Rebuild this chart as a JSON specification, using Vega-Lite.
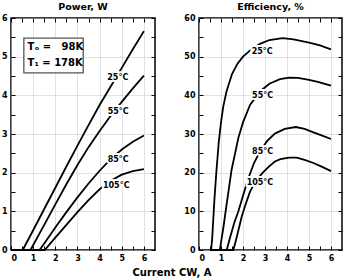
{
  "$schema": "https://vega.github.io/schema/vega-lite/v6.json",
  "padding": {"left": 0, "top": 0, "right": 4, "bottom": 0},
  "background": "white",
  "config": {
    "font": "DejaVu Sans",
    "view": {"stroke": "black", "strokeWidth": 1.5},
    "axis": {
      "labelFont": "DejaVu Sans", "labelFontWeight": "bold", "labelFontSize": 8, "labelColor": "black",
      "tickColor": "black", "tickWidth": 1, "domain": false, "title": null,
      "gridColor": "#c4c4c4", "gridDash": [1, 1], "gridWidth": 1
    },
    "title": {"font": "DejaVu Sans", "fontWeight": "bold", "fontSize": 10, "color": "black"}
  },
  "datasets": {
    "power": [
      {"t": "25", "x": 0, "y": 0}, {"t": "25", "x": 0.53, "y": 0}, {"t": "25", "x": 1, "y": 0.51}, {"t": "25", "x": 1.5, "y": 1.06}, {"t": "25", "x": 2, "y": 1.61}, {"t": "25", "x": 2.5, "y": 2.16}, {"t": "25", "x": 3, "y": 2.7}, {"t": "25", "x": 3.5, "y": 3.23}, {"t": "25", "x": 4, "y": 3.75}, {"t": "25", "x": 4.5, "y": 4.23}, {"t": "25", "x": 5, "y": 4.71}, {"t": "25", "x": 5.5, "y": 5.19}, {"t": "25", "x": 6, "y": 5.66},
      {"t": "55", "x": 0, "y": 0}, {"t": "55", "x": 0.88, "y": 0}, {"t": "55", "x": 1.5, "y": 0.65}, {"t": "55", "x": 2, "y": 1.18}, {"t": "55", "x": 2.5, "y": 1.7}, {"t": "55", "x": 3, "y": 2.2}, {"t": "55", "x": 3.5, "y": 2.66}, {"t": "55", "x": 4, "y": 3.08}, {"t": "55", "x": 4.5, "y": 3.47}, {"t": "55", "x": 5, "y": 3.83}, {"t": "55", "x": 5.5, "y": 4.18}, {"t": "55", "x": 6, "y": 4.51},
      {"t": "85", "x": 0, "y": 0}, {"t": "85", "x": 1.29, "y": 0}, {"t": "85", "x": 1.5, "y": 0.17}, {"t": "85", "x": 2, "y": 0.58}, {"t": "85", "x": 2.5, "y": 0.98}, {"t": "85", "x": 3, "y": 1.36}, {"t": "85", "x": 3.5, "y": 1.72}, {"t": "85", "x": 4, "y": 2.05}, {"t": "85", "x": 4.5, "y": 2.35}, {"t": "85", "x": 5, "y": 2.6}, {"t": "85", "x": 5.5, "y": 2.8}, {"t": "85", "x": 6, "y": 2.96},
      {"t": "105", "x": 0, "y": 0}, {"t": "105", "x": 1.52, "y": 0}, {"t": "105", "x": 2, "y": 0.32}, {"t": "105", "x": 2.5, "y": 0.65}, {"t": "105", "x": 3, "y": 0.98}, {"t": "105", "x": 3.5, "y": 1.29}, {"t": "105", "x": 4, "y": 1.57}, {"t": "105", "x": 4.5, "y": 1.79}, {"t": "105", "x": 5, "y": 1.95}, {"t": "105", "x": 5.5, "y": 2.04}, {"t": "105", "x": 6, "y": 2.09}
    ],
    "eff": [
      {"t": "25", "x": 0.5, "y": 0}, {"t": "25", "x": 0.55, "y": 0}, {"t": "25", "x": 0.6, "y": 3}, {"t": "25", "x": 0.7, "y": 13}, {"t": "25", "x": 0.8, "y": 21}, {"t": "25", "x": 0.9, "y": 28}, {"t": "25", "x": 1.0, "y": 33}, {"t": "25", "x": 1.1, "y": 37}, {"t": "25", "x": 1.25, "y": 41}, {"t": "25", "x": 1.5, "y": 45.5}, {"t": "25", "x": 1.75, "y": 48.2}, {"t": "25", "x": 2, "y": 50}, {"t": "25", "x": 2.3, "y": 51.5}, {"t": "25", "x": 2.77, "y": 53.3}, {"t": "25", "x": 3.2, "y": 54.3}, {"t": "25", "x": 3.8, "y": 54.8}, {"t": "25", "x": 4.3, "y": 54.5}, {"t": "25", "x": 5, "y": 53.6}, {"t": "25", "x": 5.5, "y": 52.9}, {"t": "25", "x": 6, "y": 51.9},
      {"t": "55", "x": 0.5, "y": 0}, {"t": "55", "x": 0.95, "y": 0}, {"t": "55", "x": 1.0, "y": 2}, {"t": "55", "x": 1.1, "y": 5.5}, {"t": "55", "x": 1.26, "y": 12}, {"t": "55", "x": 1.48, "y": 20.7}, {"t": "55", "x": 1.79, "y": 29}, {"t": "55", "x": 2.0, "y": 33}, {"t": "55", "x": 2.32, "y": 37.5}, {"t": "55", "x": 2.77, "y": 41}, {"t": "55", "x": 3.2, "y": 43}, {"t": "55", "x": 3.68, "y": 44.2}, {"t": "55", "x": 4.1, "y": 44.6}, {"t": "55", "x": 4.5, "y": 44.5}, {"t": "55", "x": 5, "y": 44}, {"t": "55", "x": 5.4, "y": 43.5}, {"t": "55", "x": 6, "y": 42.5},
      {"t": "85", "x": 0.5, "y": 0}, {"t": "85", "x": 1.26, "y": 0}, {"t": "85", "x": 1.4, "y": 3}, {"t": "85", "x": 1.6, "y": 7}, {"t": "85", "x": 1.79, "y": 10}, {"t": "85", "x": 2.0, "y": 14}, {"t": "85", "x": 2.24, "y": 18.5}, {"t": "85", "x": 2.5, "y": 22.5}, {"t": "85", "x": 2.77, "y": 25.5}, {"t": "85", "x": 3.1, "y": 28.2}, {"t": "85", "x": 3.45, "y": 30.1}, {"t": "85", "x": 3.9, "y": 31.3}, {"t": "85", "x": 4.4, "y": 31.8}, {"t": "85", "x": 4.8, "y": 31.3}, {"t": "85", "x": 5.2, "y": 30.4}, {"t": "85", "x": 5.6, "y": 29.6}, {"t": "85", "x": 6, "y": 28.7},
      {"t": "105", "x": 0.5, "y": 0}, {"t": "105", "x": 1.56, "y": 0}, {"t": "105", "x": 1.7, "y": 3}, {"t": "105", "x": 1.94, "y": 8.6}, {"t": "105", "x": 2.1, "y": 11.5}, {"t": "105", "x": 2.32, "y": 15.1}, {"t": "105", "x": 2.6, "y": 18}, {"t": "105", "x": 2.9, "y": 20}, {"t": "105", "x": 3.2, "y": 21.7}, {"t": "105", "x": 3.45, "y": 22.9}, {"t": "105", "x": 3.7, "y": 23.5}, {"t": "105", "x": 4.1, "y": 23.9}, {"t": "105", "x": 4.44, "y": 23.9}, {"t": "105", "x": 4.8, "y": 23.3}, {"t": "105", "x": 5.2, "y": 22.5}, {"t": "105", "x": 5.6, "y": 21.5}, {"t": "105", "x": 6, "y": 20.4}
    ],
    "powerLabels": [
      {"x": 4.82, "y": 4.46, "label": "25°C"}, {"x": 4.84, "y": 3.56, "label": "55°C"}, {"x": 4.84, "y": 2.34, "label": "85°C"}, {"x": 4.75, "y": 1.66, "label": "105°C"}
    ],
    "effLabels": [
      {"x": 2.87, "y": 51.2, "label": "25°C"}, {"x": 2.89, "y": 39.7, "label": "55°C"}, {"x": 2.89, "y": 25.4, "label": "85°C"}, {"x": 2.77, "y": 17.3, "label": "105°C"}
    ],
    "box": [{"x": 0.58, "x2": 3.26, "y": 4.58, "y2": 5.48}],
    "boxText": [{"x": 0.75, "y": 5.26, "label": "Tₒ = \u200798K"}, {"x": 0.75, "y": 4.83, "label": "T₁ = 178K"}]
  },
  "title": {"text": "Current CW, A", "orient": "bottom", "anchor": "middle", "offset": 5, "fontSize": 10},
  "spacing": 26,
  "hconcat": [
    {
      "width": 144, "height": 232,
      "title": {"text": "Power, W", "offset": 3, "fontSize": 9.5},
      "layer": [
        {
          "data": {"name": "power"},
          "mark": {"type": "line", "color": "black", "strokeWidth": 1.8},
          "encoding": {
            "x": {"field": "x", "type": "quantitative", "scale": {"domain": [0, 6.5], "nice": false},
                  "axis": {"orient": "bottom", "values": [0,0.5,1,1.5,2,2.5,3,3.5,4,4.5,5,5.5,6], "labelExpr": "datum.value % 1 == 0 ? format(datum.value, 'd') : ''", "tickSize": -4, "labelPadding": 8, "gridOpacity": {"condition": {"test": "datum.value % 1 == 0", "value": 1}, "value": 0}}},
            "y": {"field": "y", "type": "quantitative", "scale": {"domain": [0, 6], "nice": false},
                  "axis": {"orient": "left", "values": [0,0.5,1,1.5,2,2.5,3,3.5,4,4.5,5,5.5,6], "labelExpr": "datum.value % 1 == 0 ? format(datum.value, 'd') : ''", "tickSize": -4, "labelPadding": 8, "gridOpacity": {"condition": {"test": "datum.value % 1 == 0", "value": 1}, "value": 0}}},
            "detail": {"field": "t"}
          }
        },
        {
          "data": {"name": "powerLabels"},
          "mark": {"type": "text", "fontWeight": "bold", "fontSize": 8, "stroke": "white", "strokeWidth": 4, "color": "white"},
          "encoding": {
            "x": {"field": "x", "type": "quantitative", "axis": {"orient": "top", "values": [0,0.5,1,1.5,2,2.5,3,3.5,4,4.5,5,5.5,6], "labels": false, "tickSize": -4, "grid": false}},
            "y": {"field": "y", "type": "quantitative", "axis": {"orient": "right", "values": [0,0.5,1,1.5,2,2.5,3,3.5,4,4.5,5,5.5,6], "labels": false, "tickSize": -4, "grid": false}},
            "text": {"field": "label"}
          }
        },
        {
          "data": {"name": "powerLabels"},
          "mark": {"type": "text", "fontWeight": "bold", "fontSize": 8, "color": "black"},
          "encoding": {
            "x": {"field": "x", "type": "quantitative", "axis": null},
            "y": {"field": "y", "type": "quantitative", "axis": null},
            "text": {"field": "label"}
          }
        },
        {
          "data": {"name": "box"},
          "mark": {"type": "rect", "fill": "white", "stroke": "#555555", "strokeWidth": 1.3},
          "encoding": {
            "x": {"field": "x", "type": "quantitative", "axis": null},
            "x2": {"field": "x2"},
            "y": {"field": "y", "type": "quantitative", "axis": null},
            "y2": {"field": "y2"}
          }
        },
        {
          "data": {"name": "boxText"},
          "mark": {"type": "text", "fontWeight": "bold", "fontSize": 10, "color": "black", "align": "left", "baseline": "middle"},
          "encoding": {
            "x": {"field": "x", "type": "quantitative", "axis": null},
            "y": {"field": "y", "type": "quantitative", "axis": null},
            "text": {"field": "label"}
          }
        }
      ],
      "resolve": {"axis": {"x": "independent", "y": "independent"}}
    },
    {
      "width": 143, "height": 232,
      "title": {"text": "Efficiency, %", "offset": 3, "fontSize": 9.5},
      "layer": [
        {
          "data": {"name": "eff"},
          "mark": {"type": "line", "color": "black", "strokeWidth": 1.8},
          "encoding": {
            "x": {"field": "x", "type": "quantitative", "scale": {"domain": [0, 6.5], "nice": false},
                  "axis": {"orient": "bottom", "values": [0,0.5,1,1.5,2,2.5,3,3.5,4,4.5,5,5.5,6], "labelExpr": "datum.value % 1 == 0 ? format(datum.value, 'd') : ''", "tickSize": -4, "labelPadding": 8, "gridOpacity": {"condition": {"test": "datum.value % 1 == 0", "value": 1}, "value": 0}}},
            "y": {"field": "y", "type": "quantitative", "scale": {"domain": [0, 60], "nice": false},
                  "axis": {"orient": "left", "values": [0,5,10,15,20,25,30,35,40,45,50,55,60], "labelExpr": "datum.value % 10 == 0 ? format(datum.value, 'd') : ''", "tickSize": -4, "labelPadding": 8, "gridOpacity": {"condition": {"test": "datum.value % 10 == 0", "value": 1}, "value": 0}}},
            "detail": {"field": "t"}
          }
        },
        {
          "data": {"name": "effLabels"},
          "mark": {"type": "text", "fontWeight": "bold", "fontSize": 8, "stroke": "white", "strokeWidth": 4, "color": "white"},
          "encoding": {
            "x": {"field": "x", "type": "quantitative", "axis": {"orient": "top", "values": [0,0.5,1,1.5,2,2.5,3,3.5,4,4.5,5,5.5,6], "labels": false, "tickSize": -4, "grid": false}},
            "y": {"field": "y", "type": "quantitative", "axis": {"orient": "right", "values": [0,5,10,15,20,25,30,35,40,45,50,55,60], "labels": false, "tickSize": -4, "grid": false}},
            "text": {"field": "label"}
          }
        },
        {
          "data": {"name": "effLabels"},
          "mark": {"type": "text", "fontWeight": "bold", "fontSize": 8, "color": "black"},
          "encoding": {
            "x": {"field": "x", "type": "quantitative", "axis": null},
            "y": {"field": "y", "type": "quantitative", "axis": null},
            "text": {"field": "label"}
          }
        }
      ],
      "resolve": {"axis": {"x": "independent", "y": "independent"}}
    }
  ]
}
